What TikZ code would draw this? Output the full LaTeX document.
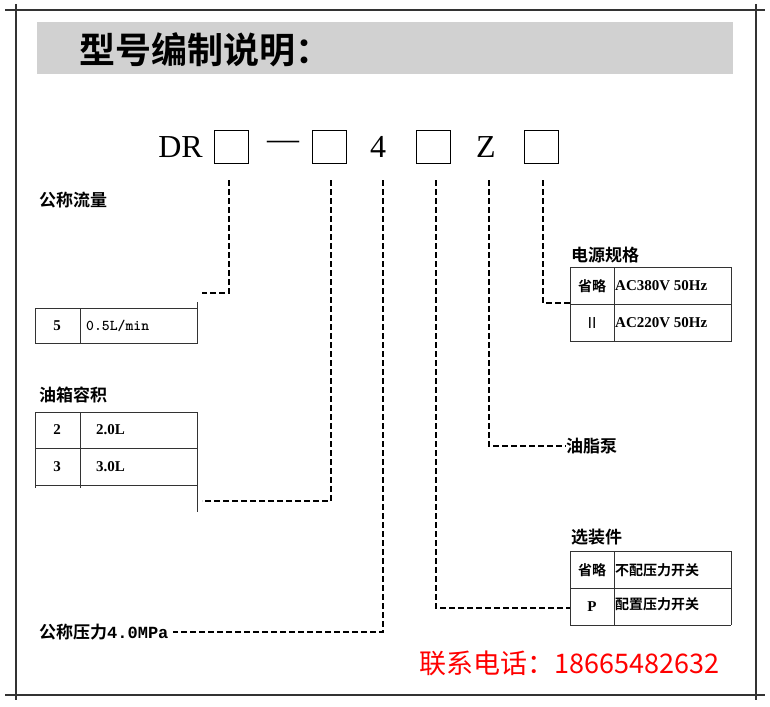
\documentclass[tikz,border=0pt]{standalone}
\usepackage{fontspec}
\setmainfont{Liberation Serif}
\newfontfamily\cjk{Noto Sans CJK SC}
\newfontfamily\cjkb{Noto Sans CJK SC Bold}
\begin{document}
\begin{tikzpicture}[x=1pt,y=-1pt,
  lead/.style={dashed,dash pattern=on 6pt off 3pt,line width=1.1pt},
  tbl/.style={draw=black!80,line width=0.8pt},
  cell/.style={inner sep=0pt,font=\bfseries\fontsize{15}{15}\selectfont},
  cn/.style={inner sep=0pt,font=\cjkb\fontsize{17}{17}\selectfont},
  cns/.style={inner sep=0pt,font=\cjkb\fontsize{14}{14}\selectfont},
  mbox/.style={draw,line width=1pt,minimum width=34pt,minimum height=33pt,inner sep=0pt},
  mtxt/.style={inner sep=0pt,font=\fontsize{32}{32}\selectfont}]
\useasboundingbox (0,0) rectangle (770,706);
% frame
\draw[line width=1.2pt,black!80] (5,10) -- (765,10) (16,4) -- (16,700) (756,4) -- (756,700) (5,695) -- (765,695);
\fill[black!18] (37,22) rectangle (733,74);
\node[anchor=west,inner sep=0pt,font=\cjkb\fontsize{36}{36}\selectfont] (title) at (79,50) {型号编制说明：};
% model string
\node[mtxt,anchor=east] (dr) at (203,147) {DR};
\node[mbox] (b1) at (231,147) {};
\node[mtxt] (dash) at (283,145) {—};
\node[mbox] (b2) at (329,147) {};
\node[mtxt] (four) at (378,147) {4};
\node[mbox] (b3) at (433,147) {};
\node[mtxt] (zz) at (486,147) {Z};
\node[mbox] (b4) at (541,147) {};
\coordinate (t1) at (229,180); \coordinate (t2) at (331,180); \coordinate (t3) at (383,180);
\coordinate (t4) at (436,180); \coordinate (t5) at (489,180); \coordinate (t6) at (543,180);
% flow
\node[cn,anchor=west] (flow) at (39,200) {公称流量};
\coordinate (c1) at (229,293); \coordinate (e1) at (202,293);
\draw[lead] (t1) -- (c1) -- (e1);
\draw[tbl] (35,308) rectangle (197,343) (80,308) -- (80,343) (197,302) -- (197,308);
\node[cell] (f5) at (57,326) {5};
\node[cell,anchor=west,font=\ttfamily\bfseries\fontsize{15}{15}\selectfont] (f05) at (86,326) {0.5L/min};
% tank
\node[cn,anchor=west] (tank) at (39,395) {油箱容积};
\draw[tbl] (35,412) -- (197,412) (35,448) -- (197,448) (35,485) -- (197,485)
  (35,412) -- (35,488) (80,412) -- (80,488) (197,412) -- (197,512);
\node[cell] (t2a) at (57,430) {2};
\node[cell,anchor=west] (t2b) at (96,430) {2.0L};
\node[cell] (t3a) at (57,467) {3};
\node[cell,anchor=west] (t3b) at (96,467) {3.0L};
\coordinate (c2) at (331,501); \coordinate (e2) at (202,501);
\draw[lead] (t2) -- (c2) -- (e2);
% pressure
\node[cn,anchor=west] (pres) at (39,632) {公称压力\fontspec{Liberation Mono Bold}4.0MPa};
\coordinate (c3) at (383,632);
\draw[lead] (t3) -- (c3) -- ([xshift=4pt]pres.east);
% power
\node[cn,anchor=west] (power) at (571,255) {电源规格};
\draw[tbl] (570,267) rectangle (731,341) (570,304) -- (731,304) (614,267) -- (614,341);
\node[cns] (p1a) at (592,286) {省略};
\node[cell,anchor=west] (p1b) at (615,286) {AC380V 50Hz};
\node[cell,font=\cjk\fontsize{15}{15}\selectfont] (p2a) at (592,323) {Ⅱ};
\node[cell,anchor=west] (p2b) at (615,323) {AC220V 50Hz};
\coordinate (c6) at (543,303); \coordinate (e6) at (570,303);
\draw[lead] (t6) -- (c6) -- (e6);
% grease pump
\node[cn,anchor=west] (pump) at (566,446) {油脂泵};
\coordinate (c5) at (489,446);
\draw[lead] (t5) -- (c5) -- (pump.west);
% options
\node[cn,anchor=west] (opt) at (571,537) {选装件};
\draw[tbl] (570,551) -- (731,551) (570,588) -- (731,588) (570,625) -- (731,625)
  (570,551) -- (570,625) (614,551) -- (614,625) (731,551) -- (731,625);
\node[cns] (o1a) at (592,570) {省略};
\node[cns,anchor=west] (o1b) at (615,570) {不配压力开关};
\node[cell] (o2a) at (592,607) {P};
\node[cns,anchor=west] (o2b) at (615,604) {配置压力开关};
\coordinate (c4) at (436,608); \coordinate (e4) at (570,608);
\draw[lead] (t4) -- (c4) -- (e4);
% phone
\node[anchor=west,inner sep=0pt,text=red,font=\cjk\fontsize{27}{27}\selectfont] (phone) at (419,663) {联系电话：18665482632};
\end{tikzpicture}
\end{document}
